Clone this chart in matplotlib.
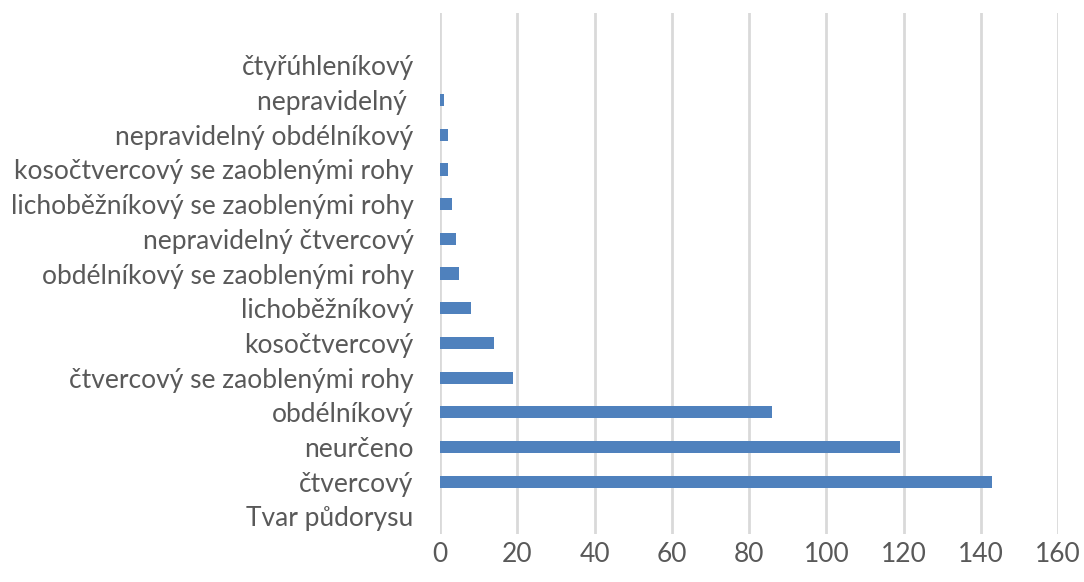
import matplotlib.pyplot as plt

# Categories from bottom to top, as in the chart
categories = ["Tvar půdorysu", "čtvercový", "neurčeno", "obdélníkový",
              "čtvercový se zaoblenými rohy", "kosočtvercový", "lichoběžníkový",
              "obdélníkový se zaoblenými rohy", "nepravidelný čtvercový",
              "lichoběžníkový se zaoblenými rohy", "kosočtvercový se zaoblenými rohy",
              "nepravidelný obdélníkový", "nepravidelný ", "čtyřúhleníkový"]
counts = [0, 143, 119, 86, 19, 14, 8, 5, 4, 3, 2, 2, 1, 0]
x_ticks = [0, 20, 40, 60, 80, 100, 120, 140, 160]

plt.rcParams['font.family'] = ['Lato', 'DejaVu Sans']

fig = plt.figure(figsize=(10.84, 5.82), dpi=100)
ax = fig.add_axes([0.406, 0.083, 0.570, 0.894])

ypos = range(len(categories))
ax.barh(ypos, counts, height=0.35, color="#4f81bd", linewidth=0, zorder=3)

ax.set_xlim(0, 160)
ax.set_ylim(-0.5, len(categories) + 0.5)
ax.set_xticks(x_ticks)
ax.set_yticks(list(ypos))
ax.set_yticklabels(categories)
ax.tick_params(axis="both", length=0, labelsize=19, colors="#595959")
ax.tick_params(axis="x", pad=6)
ax.tick_params(axis="y", pad=19)

ax.grid(axis="x", color="#d9d9d9", linewidth=2, zorder=0)
for s in ax.spines.values():
    s.set_visible(False)

plt.savefig("out.png", dpi=100)
